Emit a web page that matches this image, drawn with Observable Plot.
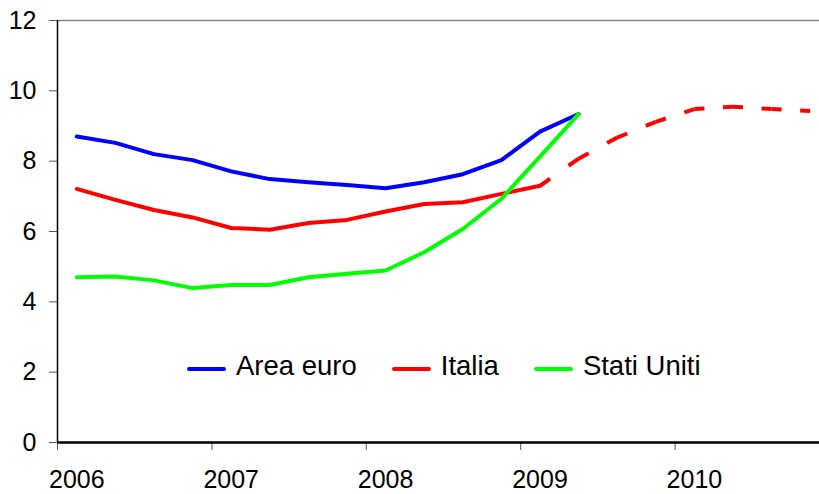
<!DOCTYPE html>
<html>
<head>
<meta charset="utf-8">
<script src="https://cdn.jsdelivr.net/npm/d3@7"></script>
<script src="https://cdn.jsdelivr.net/npm/@observablehq/plot@0.6"></script>
<style>
  body { margin: 0; background: #fff; }
  #chart { position: relative; width: 819px; height: 494px; font-family: "Liberation Sans", Arial, sans-serif; overflow: hidden; }
  #legend { position: absolute; left: 187px; top: 352px; display: flex; align-items: center; font-size: 27.5px; line-height: 28px; color: #000; }
  #legend .item { display: flex; align-items: center; margin-right: 35px; }
  #legend .sw { width: 39px; height: 4px; border-radius: 2px; margin-right: 10px; position: relative; top: 3px; }
</style>
</head>
<body>
<div id="chart"></div>
<script>
// Quarterly categories, 2006 Q1 – 2010 Q4
const quarters = [
  "2006 T1","2006 T2","2006 T3","2006 T4",
  "2007 T1","2007 T2","2007 T3","2007 T4",
  "2008 T1","2008 T2","2008 T3","2008 T4",
  "2009 T1","2009 T2","2009 T3","2009 T4",
  "2010 T1","2010 T2","2010 T3","2010 T4"
];
const yearLabels = ["2006", "2007", "2008", "2009", "2010"];
const yTicks = [0, 2, 4, 6, 8, 10, 12];

// Unemployment rate (%), observed values from 2006 Q1
const areaEuro = [8.70, 8.52, 8.20, 8.03, 7.71, 7.49, 7.40, 7.32, 7.23, 7.40, 7.63, 8.03, 8.84, 9.34];
const italia = [7.21, 6.90, 6.61, 6.40, 6.10, 6.05, 6.24, 6.33, 6.57, 6.78, 6.83, 7.07, 7.30];
const statiUniti = [4.70, 4.72, 4.61, 4.39, 4.48, 4.48, 4.70, 4.80, 4.89, 5.41, 6.07, 6.93, 8.13, 9.34];
// Italia projection, from 2009 Q1 to 2010 Q4
const italiaPrevisione = [7.30, 8.07, 8.67, 9.12, 9.48, 9.55, 9.48, 9.43];

const series = [
  {name: "Area euro", color: "#0000ff", values: areaEuro},
  {name: "Italia", color: "#ff0000", values: italia},
  {name: "Stati Uniti", color: "#00ff00", values: statiUniti}
];

const toPoints = (values, start = 0) => values.map((v, k) => ({i: start + k, v}));
const forecastStart = italia.length - 1;
const forecastPts = toPoints(italiaPrevisione, forecastStart);
const forecastSegs = forecastPts.slice(1).map((p, k) => ({a: forecastPts[k], b: p}));

// Year ticks sit on category boundaries; year labels on each Q1
const yearStarts = yearLabels.map(y => quarters.indexOf(y + " T1"));

const chart = Plot.plot({
  width: 819,
  height: 494,
  marginLeft: 57,
  marginRight: 0,
  marginTop: 20,
  marginBottom: 52,
  style: {fontFamily: "Liberation Sans, Arial, sans-serif", background: "white", color: "#000"},
  x: {domain: [-0.5, quarters.length - 0.5], range: [57, 829]},
  y: {domain: [0, 12]},
  marks: [
    Plot.ruleY([12], {stroke: "#868686", strokeWidth: 1.5}),
    Plot.axisY({ticks: yTicks, tickSize: 8, tickPadding: 13, fontSize: 25, stroke: "#555", fill: "#000", label: null}),
    Plot.axisX({ticks: yearStarts.map(i => i - 0.5), tickSize: 8, tickFormat: () => "", stroke: "#555", label: null}),
    Plot.axisX({ticks: yearStarts, tickSize: 0, tickPadding: 28, fontSize: 25, fill: "#000",
      tickFormat: d => yearLabels[yearStarts.indexOf(d)], label: null}),
    Plot.ruleX([-0.5], {stroke: "#000", strokeWidth: 1.5}),
    // each projected segment: a dash at both ends, centred on the quarter points
    Plot.link(forecastSegs, {
      x1: d => d.a.i, y1: d => d.a.v, x2: d => d.b.i, y2: d => d.b.v,
      stroke: "#ff0000", strokeWidth: 4, strokeDasharray: "26 48 26", strokeLinecap: "butt",
      className: "previsione"
    }),
    ...series.map(s => Plot.line(toPoints(s.values), {
      x: "i", y: "v", stroke: s.color, strokeWidth: 4, strokeLinejoin: "round", strokeLinecap: "round"
    })),
    Plot.ruleY([0], {stroke: "#000", strokeWidth: 2.5})
  ]
});

// dash lengths relative to each segment's own length
chart.querySelectorAll(".previsione path, .previsione line").forEach(p => p.setAttribute("pathLength", 100));

const root = document.getElementById("chart");
root.appendChild(chart);

// Legend drawn inside the plot area
const legend = document.createElement("div");
legend.id = "legend";
for (const s of series) {
  const item = document.createElement("div");
  item.className = "item";
  const sw = document.createElement("span");
  sw.className = "sw";
  sw.style.background = s.color;
  const label = document.createElement("span");
  label.textContent = s.name;
  item.appendChild(sw);
  item.appendChild(label);
  legend.appendChild(item);
}
root.appendChild(legend);
</script>
</body>
</html>
